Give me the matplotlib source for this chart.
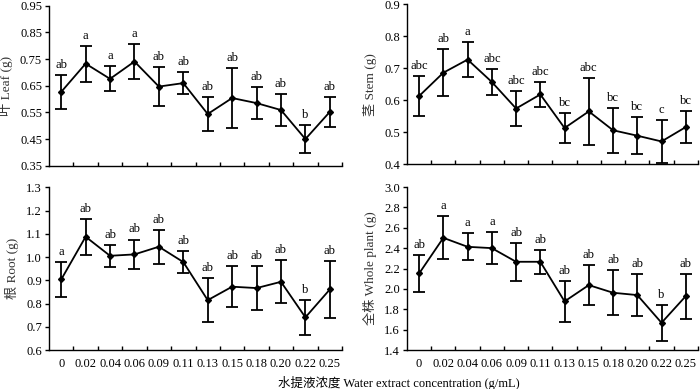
import matplotlib
matplotlib.use("Agg")
import matplotlib.pyplot as plt
import numpy as np

conc = ["0", "0.02", "0.04", "0.06", "0.09", "0.11", "0.13", "0.15", "0.18", "0.20", "0.22", "0.25"]

leaf_mean = [0.627, 0.733, 0.676, 0.741, 0.647, 0.660, 0.544, 0.604, 0.585, 0.559, 0.450, 0.552]
leaf_err = [0.063, 0.068, 0.047, 0.065, 0.072, 0.040, 0.063, 0.112, 0.060, 0.060, 0.054, 0.057]
leaf_let = ["ab", "a", "a", "a", "ab", "ab", "ab", "ab", "ab", "ab", "b", "ab"]

stem_mean = [0.613, 0.686, 0.727, 0.657, 0.574, 0.618, 0.513, 0.565, 0.506, 0.489, 0.471, 0.516]
stem_err = [0.063, 0.073, 0.055, 0.042, 0.055, 0.040, 0.047, 0.105, 0.070, 0.057, 0.067, 0.051]
stem_let = ["abc", "ab", "a", "abc", "abc", "abc", "bc", "abc", "bc", "bc", "c", "bc"]

root_mean = [0.904, 1.088, 1.006, 1.012, 1.045, 0.979, 0.815, 0.873, 0.867, 0.894, 0.741, 0.861]
root_err = [0.074, 0.077, 0.048, 0.064, 0.073, 0.048, 0.096, 0.089, 0.095, 0.093, 0.076, 0.123]
root_let = ["a", "ab", "ab", "ab", "ab", "ab", "ab", "ab", "ab", "ab", "b", "ab"]

whole_mean = [2.152, 2.502, 2.414, 2.401, 2.267, 2.267, 1.878, 2.038, 1.963, 1.940, 1.668, 1.930]
whole_err = [0.180, 0.212, 0.133, 0.154, 0.187, 0.116, 0.202, 0.195, 0.222, 0.203, 0.174, 0.220]
whole_let = ["ab", "a", "a", "a", "ab", "ab", "ab", "ab", "ab", "ab", "b", "ab"]

plt.rcParams['font.family'] = ['Liberation Serif', 'Noto Sans CJK SC']
plt.rcParams['font.size'] = 9

fig = plt.figure(figsize=(7, 3.89), dpi=100)

panels = [
    ([0.070, 0.574, 0.4186, 0.411], leaf_mean, leaf_err, leaf_let, (0.35, 0.95), np.arange(0.35, 0.951, 0.1), "{:.2f}", "叶 Leaf (g)", False),
    ([0.5814, 0.578, 0.4156, 0.411], stem_mean, stem_err, stem_let, (0.4, 0.9), np.arange(0.4, 0.901, 0.1), "{:.1f}", "茎 Stem (g)", False),
    ([0.070, 0.100, 0.4186, 0.418], root_mean, root_err, root_let, (0.6, 1.3), np.arange(0.6, 1.301, 0.1), "{:.1f}", "根 Root (g)", True),
    ([0.5814, 0.100, 0.4156, 0.419], whole_mean, whole_err, whole_let, (1.4, 3.0), np.arange(1.4, 3.001, 0.2), "{:.1f}", "全株 Whole plant (g)", True),
]

x = np.arange(len(conc))
for rect, mean, err, lets, ylim, yt, fmt, ylab, showx in panels:
    ax = fig.add_axes(rect)
    ax.errorbar(x, mean, yerr=err, color='black', lw=1.3, marker='D', ms=3,
                capsize=4, capthick=1.3, elinewidth=1.3)
    rng = ylim[1] - ylim[0]
    for xi, m, e, l in zip(x, mean, err, lets):
        ax.text(xi, m + e + rng * 0.025, l, ha='center', va='bottom', fontsize=9)
    ax.set_xlim(-0.5, 11.5)
    ax.set_ylim(*ylim)
    ax.set_yticks(yt)
    ax.set_yticklabels([fmt.format(v) for v in yt])
    ax.spines['top'].set_visible(False)
    ax.spines['right'].set_visible(False)
    ax.spines['left'].set_linewidth(1.0)
    ax.spines['bottom'].set_linewidth(1.0)
    ax.tick_params(axis='y', direction='out', length=3, width=1, pad=2, labelsize=9)
    ax.set_xticks(x)
    ax.set_xticks(np.arange(0.5, 12, 1), minor=True)
    ax.tick_params(axis='x', which='major', length=0, pad=6, labelsize=9)
    ax.tick_params(axis='x', which='minor', direction='in', length=3, width=1)
    if showx:
        ax.set_xticklabels(conc)
    else:
        ax.set_xticklabels([])
    ax.set_ylabel(ylab, fontsize=9.5, labelpad=5, color='#333333')

fig.text(0.570, 1 - 383 / 389, "水提液浓度 Water extract concentration (g/mL)", ha='center', va='center', fontsize=9)

fig.savefig("out.png", dpi=100)
